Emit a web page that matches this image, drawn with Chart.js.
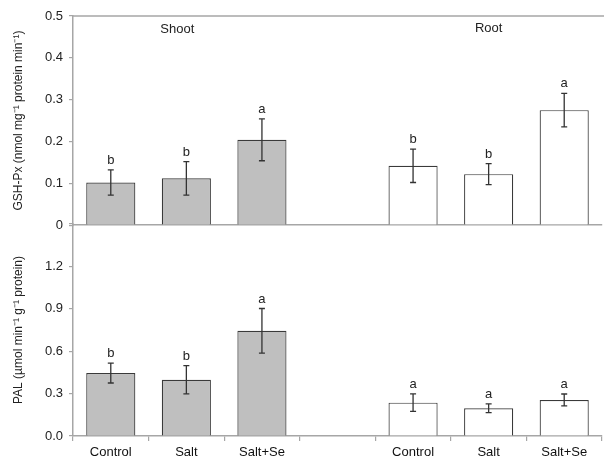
<!DOCTYPE html>
<html>
<head>
<meta charset="utf-8">
<script src="https://cdn.jsdelivr.net/npm/chart.js@4"></script>
<style>
  body { margin: 0; background: #fff; }
  #wrap { position: relative; width: 604px; height: 460px; }
  canvas { position: absolute; left: 0; }
</style>
</head>
<body>
<div id="wrap">
  <canvas id="bottom" style="top:200px"></canvas>
  <canvas id="top" style="top:0"></canvas>
</div>
<script>
// categories (4th slot is the gap between shoot and root)
const categories = ['Control', 'Salt', 'Salt+Se', '', 'Control', 'Salt', 'Salt+Se'];
const organs = ['Shoot', 'Root'];

// GSH-Px, nmol mg-1 protein min-1
const gshMean = [0.102, 0.112, 0.204, null, 0.142, 0.122, 0.275];
const gshErr = [0.030, 0.040, 0.050, null, 0.040, 0.025, 0.040];
const gshLetters = ['b', 'b', 'a', '', 'b', 'b', 'a'];

// PAL, umol min-1 g-1 protein
const palMean = [0.445, 0.398, 0.744, null, 0.236, 0.196, 0.255];
const palErr = [0.070, 0.100, 0.158, null, 0.062, 0.031, 0.042];
const palLetters = ['b', 'b', 'a', '', 'a', 'a', 'a'];

const gshTicks = [0, 0.1, 0.2, 0.3, 0.4, 0.5];
const palTicks = [0, 0.3, 0.6, 0.9, 1.2, 1.5];

const FONT = 'Liberation Sans, Arial, sans-serif';
const AXIS = '#a6a6a6';

// shoot bars grey, root bars white
const fills = categories.map((c, i) => i < 3 ? '#bfbfbf' : '#ffffff');

// error bars + significance letters
const errorPlugin = {
    id: 'errors',
    afterDatasetsDraw(chart, args, opts) {
        const ctx = chart.ctx;
        const x = chart.scales.x, y = chart.scales.y;
        const mean = chart.data.datasets[0].data;
        ctx.save();
        ctx.strokeStyle = '#333';
        ctx.lineWidth = 1.3;
        ctx.fillStyle = '#222';
        ctx.font = '13px ' + FONT;
        ctx.textAlign = 'center';
        ctx.textBaseline = 'bottom';
        mean.forEach((m, i) => {
            if (m == null) return;
            const px = x.getPixelForValue(i);
            const hi = y.getPixelForValue(m + opts.err[i]);
            const lo = y.getPixelForValue(m - opts.err[i]);
            ctx.beginPath();
            ctx.moveTo(px, hi); ctx.lineTo(px, lo);
            ctx.moveTo(px - 3, hi); ctx.lineTo(px + 3, hi);
            ctx.moveTo(px - 3, lo); ctx.lineTo(px + 3, lo);
            ctx.stroke();
            ctx.fillText(opts.letters[i], px, hi - 3);
        });
        if (opts.organs) {
            ctx.font = '13px ' + FONT;
            ctx.textBaseline = 'middle';
            ctx.fillText(opts.organs[0], x.getPixelForValue(1) - 9, chart.chartArea.top + 13);
            ctx.fillText(opts.organs[1], x.getPixelForValue(5), chart.chartArea.top + 12);
        }
        if (opts.topLine) {
            ctx.strokeStyle = AXIS;
            ctx.lineWidth = 1.5;
            ctx.beginPath();
            ctx.moveTo(chart.chartArea.left, chart.chartArea.top);
            ctx.lineTo(chart.width, chart.chartArea.top);
            ctx.stroke();
        }
        ctx.restore();
    }
};

function makePanel(id, height, mean, err, letters, ticks, title, fmt, isTop) {
    const canvas = document.getElementById(id);
    canvas.width = 604;
    canvas.height = height;
    return new Chart(canvas.getContext('2d'), {
        type: 'bar',
        data: {
            labels: categories,
            datasets: [{
                data: mean,
                backgroundColor: fills,
                borderColor: '#3a3a3a',
                borderWidth: 1.2,
                barPercentage: 0.65,
                categoryPercentage: 1.0
            }]
        },
        plugins: [errorPlugin],
        options: {
            responsive: false,
            animation: false,
            devicePixelRatio: 1,
            layout: { padding: isTop ? { top: 16, bottom: 8, right: 2 } : { top: 24, bottom: 0, right: 2 } },
            plugins: {
                legend: { display: false },
                tooltip: { enabled: false },
                errors: { err: err, letters: letters, organs: isTop ? organs : null, topLine: isTop }
            },
            scales: {
                x: {
                    grid: { display: !isTop, drawOnChartArea: false, tickLength: 5, color: AXIS, lineWidth: 1.2 },
                    border: { color: AXIS, width: 1.5 },
                    ticks: { display: !isTop, color: '#111', font: { family: FONT, size: 13 }, padding: 4 },
                    afterFit(s) { s.height = isTop ? 0 : 24; }
                },
                y: {
                    min: 0,
                    max: ticks[ticks.length - 1],
                    afterBuildTicks(s) { s.ticks = ticks.map(v => ({ value: v })); },
                    grid: { drawOnChartArea: false, tickLength: 4, color: AXIS, lineWidth: 1.2 },
                    border: { color: AXIS, width: 1.5 },
                    ticks: {
                        color: '#222',
                        font: { family: FONT, size: 13 },
                        padding: 6,
                        callback: fmt
                    },
                    title: {
                        display: true,
                        text: title,
                        color: '#222',
                        font: { family: FONT, size: 12 },
                        padding: { top: 11, bottom: 0 }
                    },
                    afterFit(s) { s.width = 73; }
                }
            }
        }
    });
}

makePanel('top', 239, gshMean, gshErr, gshLetters, gshTicks,
    'GSH-Px (nmol mg\u207B\u00B9 protein min\u207B\u00B9)',
    v => v === 0 ? '0' : v.toFixed(1), true);

makePanel('bottom', 260, palMean, palErr, palLetters, palTicks,
    'PAL (\u00B5mol min\u207B\u00B9 g\u207B\u00B9 protein)',
    v => v >= 1.5 ? '' : v.toFixed(1), false);
</script>
</body>
</html>
